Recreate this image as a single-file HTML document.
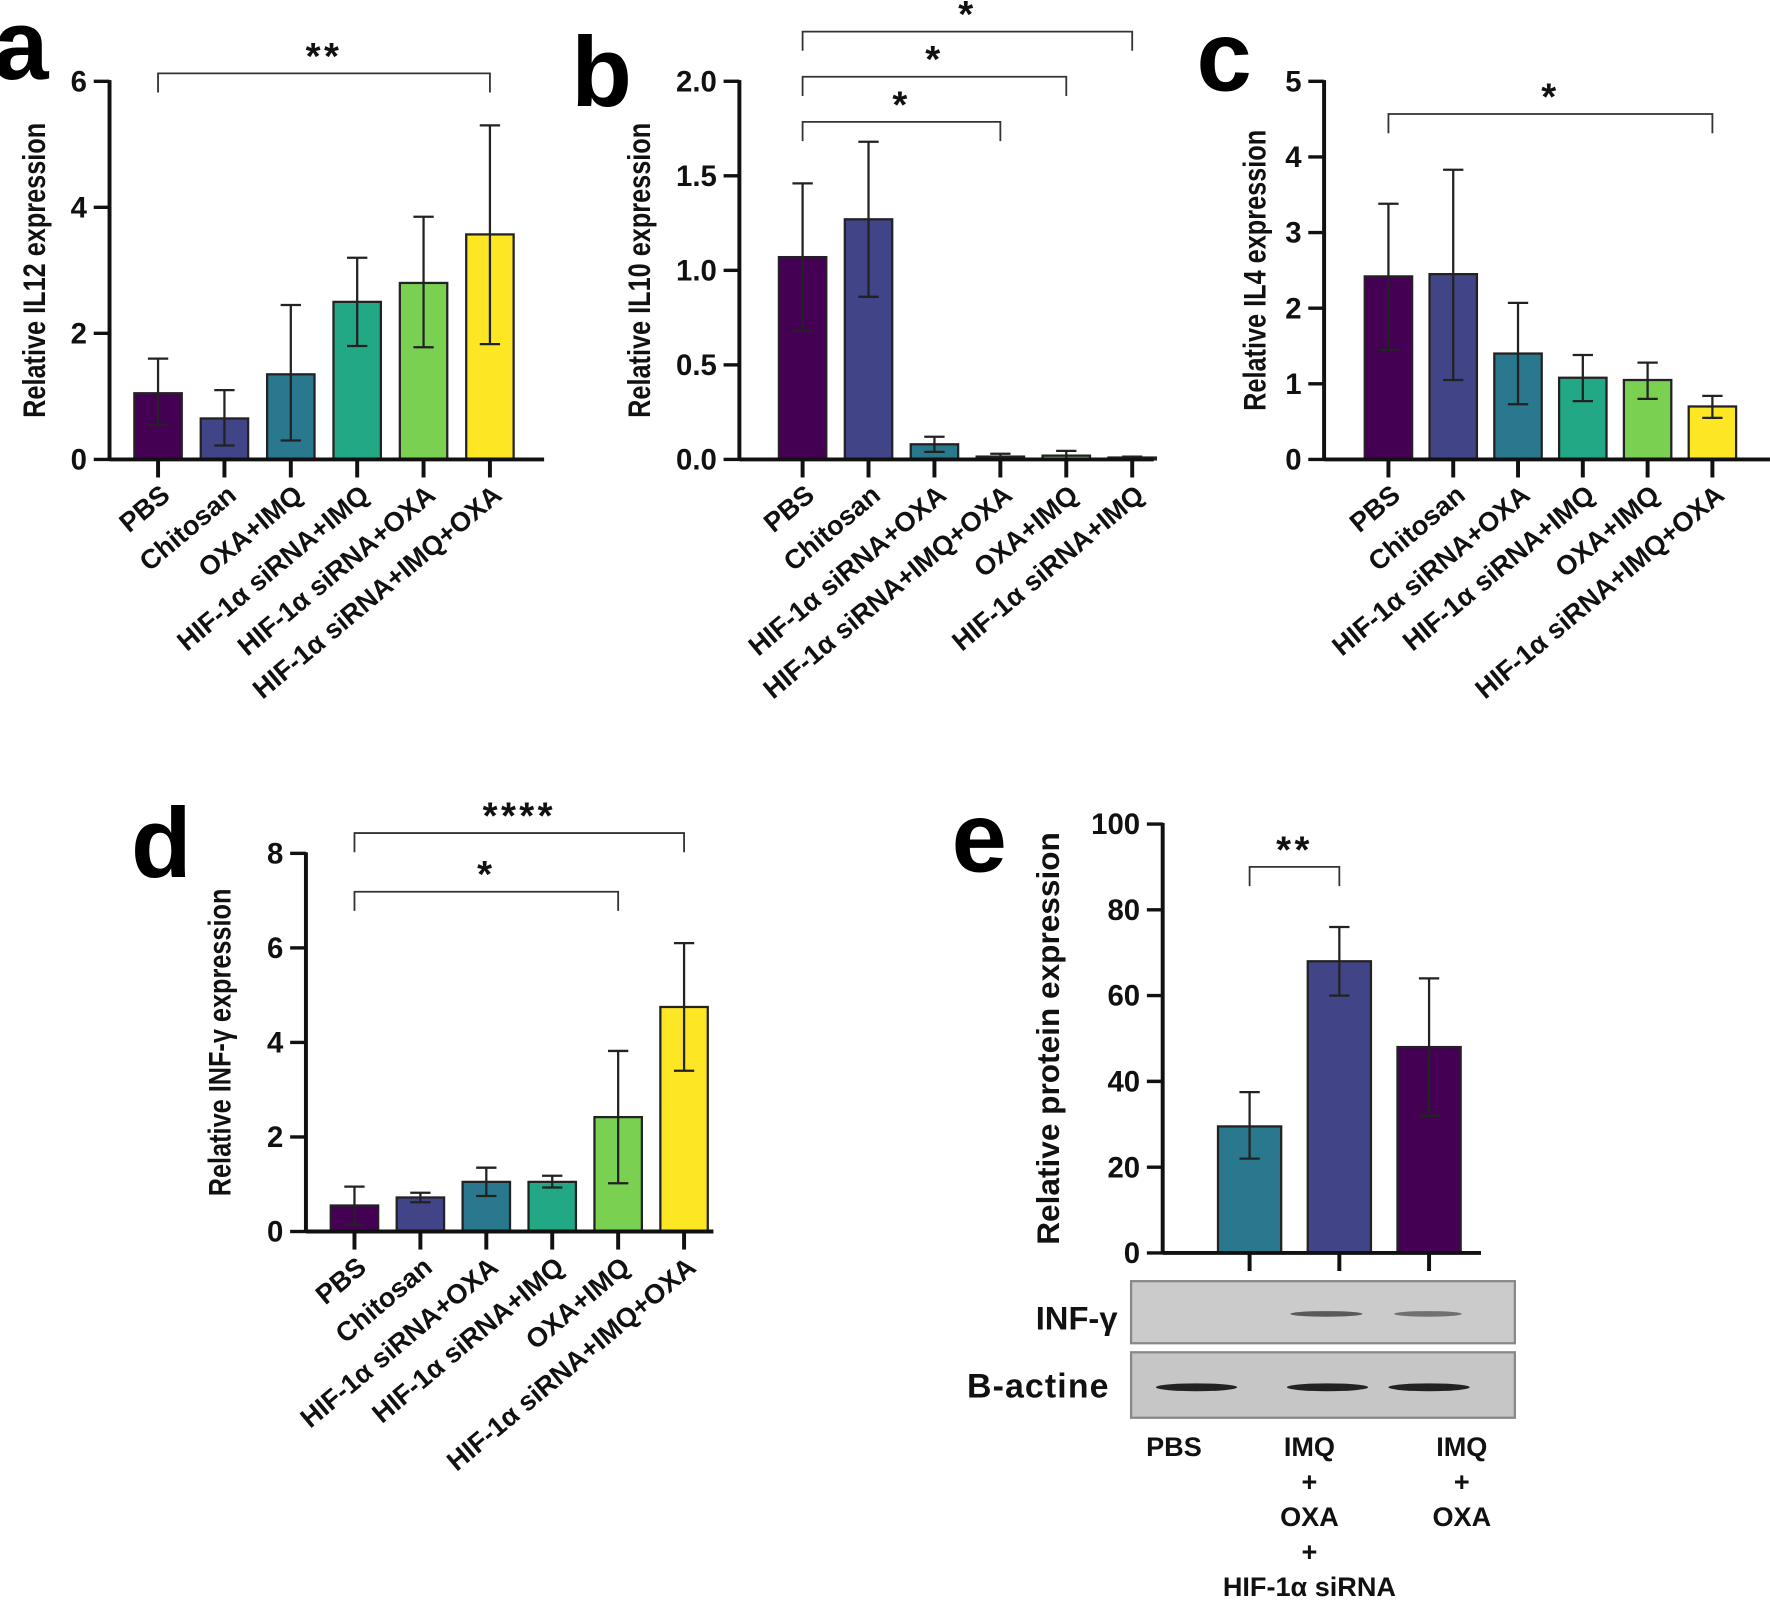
<!DOCTYPE html>
<html><head><meta charset="utf-8"><style>
html,body{margin:0;padding:0;background:#fff;}
svg{display:block;font-family:"Liberation Sans",Arial,sans-serif;}
</style></head><body>
<svg id="fig" width="1770" height="1604" viewBox="0 0 1568 1421" xmlns="http://www.w3.org/2000/svg"></svg>
<script>
// ---- Data ----
const viridis = ["#440154","#414487","#2a788e","#22a884","#7ad151","#fde725"];
const catsA = ["PBS","Chitosan","OXA+IMQ","HIF-1α siRNA+IMQ","HIF-1α siRNA+OXA","HIF-1α siRNA+IMQ+OXA"];
const valsA = [1.05,0.65,1.35,2.5,2.8,3.57];
const loA = [0.55,0.22,0.3,1.8,1.78,1.83];
const hiA = [1.6,1.1,2.45,3.2,3.85,5.3];
const ticksA = [0,2,4,6];
const catsB = ["PBS","Chitosan","HIF-1α siRNA+OXA","HIF-1α siRNA+IMQ+OXA","OXA+IMQ","HIF-1α siRNA+IMQ"];
const valsB = [1.07,1.27,0.08,0.015,0.02,0.01];
const loB = [0.68,0.86,0.04,0.0,0.0,0.0];
const hiB = [1.46,1.68,0.12,0.03,0.045,0.015];
const ticksB = ["0.0","0.5","1.0","1.5","2.0"];
const catsC = ["PBS","Chitosan","HIF-1α siRNA+OXA","HIF-1α siRNA+IMQ","OXA+IMQ","HIF-1α siRNA+IMQ+OXA"];
const valsC = [2.42,2.45,1.4,1.08,1.05,0.7];
const loC = [1.45,1.05,0.73,0.77,0.8,0.55];
const hiC = [3.38,3.83,2.07,1.38,1.28,0.84];
const ticksC = [0,1,2,3,4,5];
const catsD = ["PBS","Chitosan","HIF-1α siRNA+OXA","HIF-1α siRNA+IMQ","OXA+IMQ","HIF-1α siRNA+IMQ+OXA"];
const valsD = [0.55,0.72,1.05,1.05,2.42,4.75];
const loD = [0.15,0.62,0.75,0.93,1.02,3.4];
const hiD = [0.95,0.82,1.35,1.18,3.82,6.1];
const ticksD = [0,2,4,6,8];
const catsE = ["PBS","IMQ+OXA+HIF-1α siRNA","IMQ+OXA"];
const valsE = [29.5,68,48];
const loE = [22,60,32];
const hiE = [37.5,76,64];
const ticksE = [0,20,40,60,80,100];
const colorsE = ["#2a788e","#414487","#440154"];

const NS="http://www.w3.org/2000/svg";
const svg=document.getElementById('fig');
function el(tag,attrs,parent){const e=document.createElementNS(NS,tag);for(const k in attrs)e.setAttribute(k,attrs[k]);(parent||svg).appendChild(e);return e;}
function txt(s,attrs,parent){const e=el('text',attrs,parent);e.textContent=s;return e;}

function panel(p){
  const g=el('g',{});
  
  
  const tmax=p.tmax;
  const y=v=>p.y0-(v/tmax)*(p.y0-p.y1);
  const x=i=>p.xc0+i*p.step;
  p.vals.forEach((v,i)=>{
    const r=el('rect',{x:x(i)-p.bw/2,y:y(v),width:p.bw,height:p.y0-y(v),fill:p.colors[i],stroke:'#222','stroke-width':2},g);
    
    
    const e=el('path',{d:`M${x(i)},${y(p.lo[i])}V${y(p.hi[i])}M${x(i)-9},${y(p.hi[i])}H${x(i)+9}M${x(i)-9},${y(p.lo[i])}H${x(i)+9}`,stroke:'#222','stroke-width':2,fill:'none'},g);
    
    
    el('line',{x1:x(i),x2:x(i),y1:p.y0,y2:p.y0+16,stroke:'#111','stroke-width':3.5},g);
  });
  el('line',{x1:p.ax,x2:p.ax,y1:p.y1-1,y2:p.y0+1,stroke:'#111','stroke-width':3.5},g);
  el('line',{x1:p.ax,x2:p.xend,y1:p.y0,y2:p.y0,stroke:'#111','stroke-width':3.5},g);
  p.ticks.forEach(t=>{
    const v=parseFloat(t);
    el('line',{x1:p.ax-14,x2:p.ax,y1:y(v),y2:y(v),stroke:'#111','stroke-width':3},g);
    const tl=txt(String(t),{x:p.ax-20,y:y(v)+9,'text-anchor':'end','font-size':26,'font-weight':'bold',fill:'#111'},g);
    
    
  });
  const yt=txt(p.ytitle,{x:0,y:0,'text-anchor':'middle','font-size':p.ytsize||28,'font-weight':'bold',fill:'#111',transform:`translate(${p.ytx},${(p.y0+p.y1)/2+(p.ytdy||0)}) rotate(-90) scale(${p.ytsx||0.8},1)`},g);
  
  
  if(p.cats && p.rot){
    p.cats.forEach((c,i)=>{
      const t=txt(c,{x:0,y:0,'text-anchor':'end','font-size':24,'font-weight':'bold',fill:'#111',transform:`translate(${x(i)+12},${p.y0+34}) rotate(-40)`},g);
      
      
    });
  }
  (p.brackets||[]).forEach(b=>{
    const br=el('path',{d:`M${x(b[0])},${b[2]+17}V${b[2]}H${x(b[1])}V${b[2]+17}`,stroke:'#333','stroke-width':1.6,fill:'none'},g);
    
    
    const s=txt(b[3],{x:(x(b[0])+x(b[1]))/2,y:b[2]-4,'text-anchor':'middle','font-size':34,'font-weight':'bold',fill:'#111','letter-spacing':3},g);
    
    
  });
  const L=txt(p.letter,{x:p.lx,y:p.ly,'font-size':88,'font-weight':'bold',fill:'#000'},g);
  
  
  return {g,x,y};
}

panel({name:'panel-a-il12',vals:valsA,lo:loA,hi:hiA,cats:catsA,rot:true,colors:viridis,ticks:ticksA,tmax:6,
  y0:407,y1:72,ax:97,xend:482,xc0:140,step:58.8,bw:42,ytitle:'Relative IL12 expression',ytx:40,
  brackets:[[0,5,65,'**']],letter:'a',lx:-6,ly:70});
panel({name:'panel-b-il10',vals:valsB,lo:loB,hi:hiB,cats:catsB,rot:true,colors:viridis,ticks:ticksB,tmax:2,
  y0:407,y1:72,ax:655,xend:1022,xc0:711,step:58.4,bw:42,ytitle:'Relative IL10 expression',ytx:576,
  brackets:[[0,3,108,'*'],[0,4,68,'*'],[0,5,28,'*']],letter:'b',lx:506,ly:94});
panel({name:'panel-c-il4',vals:valsC,lo:loC,hi:hiC,cats:catsC,rot:true,colors:viridis,ticks:ticksC,tmax:5,
  y0:407,y1:72,ax:1173,xend:1568,xc0:1230,step:57.4,bw:42,ytitle:'Relative IL4 expression',ytx:1121,
  brackets:[[0,5,101,'*']],letter:'c',lx:1060,ly:80});
panel({name:'panel-d-infg',vals:valsD,lo:loD,hi:hiD,cats:catsD,rot:true,colors:viridis,ticks:ticksD,tmax:8,
  y0:1091,y1:756,ax:271,xend:632,xc0:314,step:58.4,bw:42,ytitle:'Relative INF-γ expression',ytx:204,
  brackets:[[0,4,790,'*'],[0,5,738,'****']],letter:'d',lx:116,ly:777});
panel({name:'panel-e-protein',vals:valsE,lo:loE,hi:hiE,cats:catsE,rot:false,colors:colorsE,ticks:ticksE,tmax:100,
  y0:1110,y1:730,ax:1030,xend:1312,xc0:1107,step:79.5,bw:56,ytitle:'Relative protein expression',ytx:938,ytsize:28,ytsx:1,
  brackets:[[0,1,768,'**']],letter:'e',lx:843,ly:772});

const blot=el('g',{});


el('rect',{x:1002,y:1135,width:340,height:55,fill:'#cbcbcb',stroke:'#888','stroke-width':2},blot);
el('rect',{x:1002,y:1198,width:340,height:58,fill:'#c6c6c6',stroke:'#888','stroke-width':2},blot);
[[1175,32,0.75],[1265,30,0.6]].forEach(b=>el('ellipse',{cx:b[0],cy:1164,rx:b[1],ry:2.5,fill:'#333',opacity:b[2]},blot));
[1060,1176,1266].forEach(c=>el('ellipse',{cx:c,cy:1229,rx:36,ry:3.5,fill:'#222'},blot));
const l1=txt('INF-γ',{x:990,y:1178,'text-anchor':'end','font-size':29,'font-weight':'bold',fill:'#111'},blot);

const l2=txt('B-actine',{x:983,y:1238,'text-anchor':'end','font-size':30,'font-weight':'bold',fill:'#111','letter-spacing':1},blot);

const lanes=[[1040,['PBS']],[1160,['IMQ','+','OXA','+','HIF-1α siRNA']],[1295,['IMQ','+','OXA']]];
lanes.forEach(l=>{
  l[1].forEach((s,k)=>{
    const t=txt(s,{x:l[0],y:1290+k*31,'text-anchor':'middle','font-size':24,'font-weight':'bold',fill:'#111'},blot);
    
    
  });
});
</script>
</body></html>
